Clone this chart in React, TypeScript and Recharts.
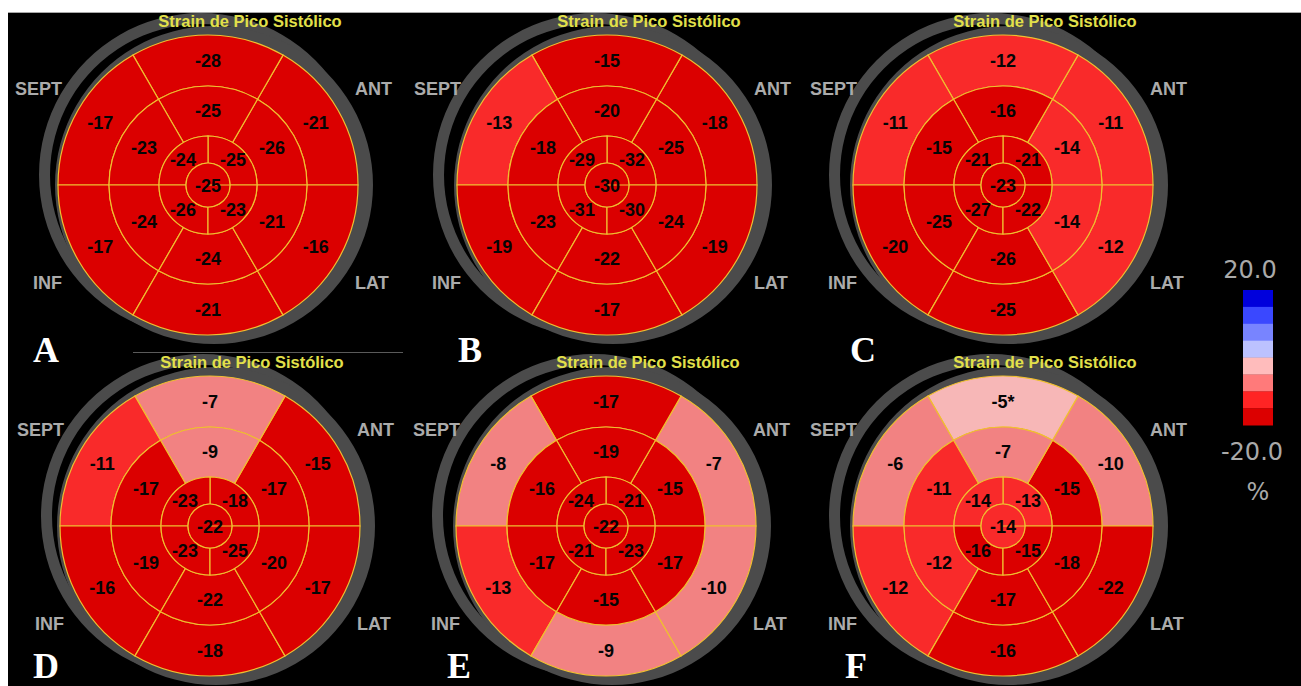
import React from 'react';
import { PieChart, Pie, Cell } from 'recharts';

// ---- data (segments listed counter-clockwise starting at 3 o'clock) ----
const PANELS = ['A', 'B', 'C', 'D', 'E', 'F'];
// basal ring: [0-60, 60-120, 120-180, 180-240, 240-300, 300-360]
const BASAL_A = [-21, -28, -17, -17, -21, -16];
const BASAL_B = [-18, -15, -13, -19, -17, -19];
const BASAL_C = [-11, -12, -11, -20, -25, -12];
const BASAL_D = [-15, -7, -11, -16, -18, -17];
const BASAL_E = [-7, -17, -8, -13, -9, -10];
const BASAL_F = [-10, -5, -6, -12, -16, -22];
// mid ring
const MID_A = [-26, -25, -23, -24, -24, -21];
const MID_B = [-25, -20, -18, -23, -22, -24];
const MID_C = [-14, -16, -15, -25, -26, -14];
const MID_D = [-17, -9, -17, -19, -22, -20];
const MID_E = [-15, -19, -16, -17, -15, -17];
const MID_F = [-15, -7, -11, -12, -17, -18];
// apical ring: [0-90, 90-180, 180-270, 270-360]
const APICAL_A = [-25, -24, -26, -23];
const APICAL_B = [-32, -29, -31, -30];
const APICAL_C = [-21, -21, -27, -22];
const APICAL_D = [-18, -23, -23, -25];
const APICAL_E = [-21, -24, -21, -23];
const APICAL_F = [-13, -14, -16, -15];
// apex per panel
const APEX = [-25, -30, -23, -22, -22, -14];
// starred segment (panel F, basal, index 1)
const STARRED = { panel: 'F', ring: 'basal', index: 1 };

const SCALE_LABELS = ['20.0', '-20.0', '%'];
const SCALE_COLORS = ['#0000dc', '#3a48ff', '#7884ff', '#bcc2ff', '#ffbcbc', '#ff7a7a', '#ff2424', '#dc0000'];
const WALL_LABELS = ['SEPT', 'ANT', 'INF', 'LAT'];
const TITLE = 'Strain de Pico Sistólico';

const BASALS = [BASAL_A, BASAL_B, BASAL_C, BASAL_D, BASAL_E, BASAL_F];
const MIDS = [MID_A, MID_B, MID_C, MID_D, MID_E, MID_F];
const APICALS = [APICAL_A, APICAL_B, APICAL_C, APICAL_D, APICAL_E, APICAL_F];

// ---- layout ----
const W = 1301;
const H = 686;
const CENTERS = [
  [208, 185], [607, 185], [1003, 185],
  [210, 526], [606, 526], [1003, 526],
];
const CRESCENT_DX = [-7, -12, -12, -7, -12, -12];
const LETTER_POS = [
  [33, 362], [458, 362], [850, 362],
  [33, 678], [447, 678], [845, 678],
];
const R0 = 22, R1 = 49, R2 = 99, R3 = 150;
const LINE = '#f0bf30';
const GRAY = '#4b4b4b';

function strainColor(v: number) {
  if (v <= -15) return '#db0000';
  if (v <= -11) return '#f92a2a';
  if (v <= -6) return '#f28282';
  return '#f7b7b7';
}

function toData(vals: number[], panel: string, ring: string) {
  return vals.map((v, i) => ({
    size: 1,
    v,
    txt: `${v}${STARRED.panel === panel && STARRED.ring === ring && STARRED.index === i ? '*' : ''}`,
  }));
}

const renderLabel = (props: any) => {
  const { cx, cy, midAngle, innerRadius, outerRadius } = props;
  const txt = props.payload?.txt ?? props.txt;
  const r = innerRadius === 0 ? 0 : (innerRadius + outerRadius) / 2;
  const rad = (-midAngle * Math.PI) / 180;
  const x = cx + r * Math.cos(rad);
  const y = cy + r * Math.sin(rad) + (innerRadius === 0 ? 1 : 0);
  return (
    <text
      x={x}
      y={y}
      textAnchor="middle"
      dominantBaseline="central"
      fill="#050505"
      fontFamily="'Liberation Sans', Arial, sans-serif"
      fontWeight="bold"
      fontSize={18}
    >
      {txt}
    </text>
  );
};

export default function App() {
  const ring = [{ size: 1 }];
  return (
    <div style={{ position: 'relative', width: W, height: H, background: '#fff', overflow: 'hidden' }}>
      <style>{'html,body{margin:0;padding:0;overflow:hidden;background:#fff;}'}</style>
      <div
        style={{
          position: 'absolute',
          left: 8,
          top: 12,
          width: W - 8,
          height: H - 12,
          background: '#000',
          borderTop: '1px solid #a8a8a8',
          boxSizing: 'border-box',
        }}
      />
      <div style={{ position: 'absolute', left: 0, top: 0 }}>
        <PieChart width={W} height={H} margin={{ top: 0, right: 0, bottom: 0, left: 0 }}>
          {PANELS.map((p, k) => {
            const [cx, cy] = CENTERS[k];
            return [
              <Pie
                key={`cres-${p}`}
                data={ring}
                dataKey="size"
                cx={cx + CRESCENT_DX[k]}
                cy={cy - 10}
                innerRadius={151}
                outerRadius={162}
                startAngle={0}
                endAngle={360}
                fill={GRAY}
                stroke="none"
                isAnimationActive={false}
              />,
              <Pie
                key={`ring-${p}`}
                data={ring}
                dataKey="size"
                cx={cx + 6}
                cy={cy}
                innerRadius={135}
                outerRadius={159}
                startAngle={0}
                endAngle={360}
                fill={GRAY}
                stroke="none"
                isAnimationActive={false}
              />,
              <Pie
                key={`basal-${p}`}
                data={toData(BASALS[k], p, 'basal')}
                dataKey="size"
                cx={cx}
                cy={cy}
                innerRadius={R2}
                outerRadius={R3}
                startAngle={0}
                endAngle={360}
                stroke={LINE}
                strokeWidth={1.2}
                label={renderLabel}
                labelLine={false}
                isAnimationActive={false}
              >
                {BASALS[k].map((v, i) => (
                  <Cell key={i} fill={strainColor(v)} />
                ))}
              </Pie>,
              <Pie
                key={`mid-${p}`}
                data={toData(MIDS[k], p, 'mid')}
                dataKey="size"
                cx={cx}
                cy={cy}
                innerRadius={R1}
                outerRadius={R2}
                startAngle={0}
                endAngle={360}
                stroke={LINE}
                strokeWidth={1.2}
                label={renderLabel}
                labelLine={false}
                isAnimationActive={false}
              >
                {MIDS[k].map((v, i) => (
                  <Cell key={i} fill={strainColor(v)} />
                ))}
              </Pie>,
              <Pie
                key={`apical-${p}`}
                data={toData(APICALS[k], p, 'apical')}
                dataKey="size"
                cx={cx}
                cy={cy}
                innerRadius={R0}
                outerRadius={R1}
                startAngle={0}
                endAngle={360}
                stroke={LINE}
                strokeWidth={1.2}
                label={renderLabel}
                labelLine={false}
                isAnimationActive={false}
              >
                {APICALS[k].map((v, i) => (
                  <Cell key={i} fill={strainColor(v)} />
                ))}
              </Pie>,
              <Pie
                key={`apex-${p}`}
                data={toData([APEX[k]], p, 'apex')}
                dataKey="size"
                cx={cx}
                cy={cy}
                innerRadius={0}
                outerRadius={R0}
                startAngle={0}
                endAngle={360}
                stroke={LINE}
                strokeWidth={1.2}
                label={renderLabel}
                labelLine={false}
                isAnimationActive={false}
              >
                <Cell fill={strainColor(APEX[k])} />
              </Pie>,
            ];
          })}
        </PieChart>
      </div>
      <svg
        width={W}
        height={H}
        style={{ position: 'absolute', left: 0, top: 0, pointerEvents: 'none' }}
      >
        <line x1={133} y1={352.5} x2={403} y2={352.5} stroke="#5a5a5a" strokeWidth={1} />
        {CENTERS.map(([cx, cy], k) => (
          <g key={`txt-${k}`} fontFamily="'Liberation Sans', Arial, sans-serif" fontWeight="bold">
            <text x={cx + 42} y={cy - 164} textAnchor="middle" dominantBaseline="central" fill="#e2e04a" fontSize={16.5}>
              {TITLE}
            </text>
            <text x={cx - 146} y={cy - 96} textAnchor="end" dominantBaseline="central" fill="#ababab" fontSize={18}>
              {WALL_LABELS[0]}
            </text>
            <text x={cx + 147} y={cy - 96} textAnchor="start" dominantBaseline="central" fill="#ababab" fontSize={18}>
              {WALL_LABELS[1]}
            </text>
            <text x={cx - 146} y={cy + 98} textAnchor="end" dominantBaseline="central" fill="#ababab" fontSize={18}>
              {WALL_LABELS[2]}
            </text>
            <text x={cx + 147} y={cy + 98} textAnchor="start" dominantBaseline="central" fill="#ababab" fontSize={18}>
              {WALL_LABELS[3]}
            </text>
          </g>
        ))}
        {PANELS.map((p, k) => (
          <text
            key={`letter-${p}`}
            x={LETTER_POS[k][0]}
            y={LETTER_POS[k][1]}
            fill="#ffffff"
            fontFamily="'Liberation Serif', 'Times New Roman', serif"
            fontWeight="bold"
            fontSize={36}
          >
            {p}
          </text>
        ))}
        {SCALE_COLORS.map((c, i) => (
          <rect key={`sc-${i}`} x={1243} y={290 + i * 16.9} width={30} height={17.2} fill={c} />
        ))}
        <g fontFamily="'DejaVu Sans', Verdana, sans-serif" fill="#a9a9a9" fontSize={24} textAnchor="middle">
          <text x={1250} y={270} dominantBaseline="central">{SCALE_LABELS[0]}</text>
          <text x={1252} y={452} dominantBaseline="central">{SCALE_LABELS[1]}</text>
          <text x={1258} y={492} dominantBaseline="central">{SCALE_LABELS[2]}</text>
        </g>
      </svg>
    </div>
  );
}
